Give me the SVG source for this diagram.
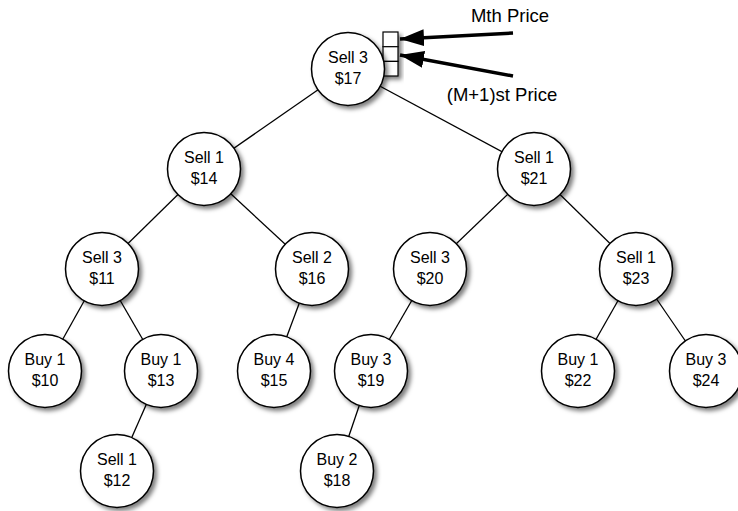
<svg xmlns="http://www.w3.org/2000/svg" width="738" height="511" viewBox="0 0 738 511">
  <defs>
    <filter id="shadow" x="-30%" y="-30%" width="170%" height="170%">
      <feDropShadow dx="3" dy="3" stdDeviation="2" flood-color="#000" flood-opacity="0.5"/>
    </filter>
    <marker id="head" viewBox="0 0 24 17" refX="24" refY="8.5" markerWidth="24" markerHeight="17" markerUnits="userSpaceOnUse" orient="auto">
      <path d="M0,0 L24,8.5 L0,17 z" fill="#000"/>
    </marker>
  </defs>
  <style>
    .edge { stroke: #000; stroke-width: 1.3; fill: none; }
    .node circle { fill: #fff; stroke: #000; stroke-width: 1.5; filter: url(#shadow); }
    .node text { font-family: "Liberation Sans", Arial, sans-serif; font-size: 16px; fill: #000; text-anchor: middle; }
    .label { font-family: "Liberation Sans", Arial, sans-serif; font-size: 18.5px; fill: #000; text-anchor: middle; }
    .slot { fill: #fff; stroke: #000; stroke-width: 1.2; }
    .pointer { stroke: #000; stroke-width: 3.5; fill: none; marker-end: url(#head); }
  </style>

  <rect width="738" height="511" fill="#fff"/>

  <!-- tree edges -->
  <g id="connectors">
    <line class="edge" x1="348" y1="69" x2="204" y2="169"/>
    <line class="edge" x1="348" y1="69" x2="534" y2="169"/>
    <line class="edge" x1="204" y1="169" x2="102" y2="269"/>
    <line class="edge" x1="204" y1="169" x2="312" y2="269"/>
    <line class="edge" x1="534" y1="169" x2="430" y2="269"/>
    <line class="edge" x1="534" y1="169" x2="636" y2="269"/>
    <line class="edge" x1="102" y1="269" x2="45" y2="371"/>
    <line class="edge" x1="102" y1="269" x2="161" y2="371"/>
    <line class="edge" x1="312" y1="269" x2="274" y2="371"/>
    <line class="edge" x1="430" y1="269" x2="371" y2="371"/>
    <line class="edge" x1="636" y1="269" x2="578" y2="371"/>
    <line class="edge" x1="636" y1="269" x2="706" y2="371"/>
    <line class="edge" x1="161" y1="371" x2="117" y2="471"/>
    <line class="edge" x1="371" y1="371" x2="337" y2="471"/>
    <line class="pointer" x1="513" y1="33" x2="400" y2="39"/>
    <line class="pointer" x1="513" y1="76" x2="400" y2="55"/>
  </g>

  <!-- price slots beside the root -->
  <g id="slots" filter="url(#shadow)">
    <rect class="slot" x="383" y="32" width="15" height="14.7"/>
    <rect class="slot" x="383" y="46.7" width="15" height="14.7"/>
    <rect class="slot" x="383" y="61.4" width="15" height="14.6"/>
  </g>

  <text class="label" x="510" y="22">Mth Price</text>
  <text class="label" x="502" y="101">(M+1)st Price</text>

  <g id="n17" class="node"><circle cx="348" cy="69" r="36.5"/><text x="348" y="63">Sell 3</text><text x="348" y="84">$17</text></g>
  <g id="n14" class="node"><circle cx="204" cy="169" r="36.5"/><text x="204" y="163">Sell 1</text><text x="204" y="184">$14</text></g>
  <g id="n21" class="node"><circle cx="534" cy="169" r="36.5"/><text x="534" y="163">Sell 1</text><text x="534" y="184">$21</text></g>
  <g id="n11" class="node"><circle cx="102" cy="269" r="36.5"/><text x="102" y="263">Sell 3</text><text x="102" y="284">$11</text></g>
  <g id="n16" class="node"><circle cx="312" cy="269" r="36.5"/><text x="312" y="263">Sell 2</text><text x="312" y="284">$16</text></g>
  <g id="n20" class="node"><circle cx="430" cy="269" r="36.5"/><text x="430" y="263">Sell 3</text><text x="430" y="284">$20</text></g>
  <g id="n23" class="node"><circle cx="636" cy="269" r="36.5"/><text x="636" y="263">Sell 1</text><text x="636" y="284">$23</text></g>
  <g id="n10" class="node"><circle cx="45" cy="371" r="36.5"/><text x="45" y="365">Buy 1</text><text x="45" y="386">$10</text></g>
  <g id="n13" class="node"><circle cx="161" cy="371" r="36.5"/><text x="161" y="365">Buy 1</text><text x="161" y="386">$13</text></g>
  <g id="n15" class="node"><circle cx="274" cy="371" r="36.5"/><text x="274" y="365">Buy 4</text><text x="274" y="386">$15</text></g>
  <g id="n19" class="node"><circle cx="371" cy="371" r="36.5"/><text x="371" y="365">Buy 3</text><text x="371" y="386">$19</text></g>
  <g id="n22" class="node"><circle cx="578" cy="371" r="36.5"/><text x="578" y="365">Buy 1</text><text x="578" y="386">$22</text></g>
  <g id="n24" class="node"><circle cx="706" cy="371" r="36.5"/><text x="706" y="365">Buy 3</text><text x="706" y="386">$24</text></g>
  <g id="n12" class="node"><circle cx="117" cy="471" r="36.5"/><text x="117" y="465">Sell 1</text><text x="117" y="486">$12</text></g>
  <g id="n18" class="node"><circle cx="337" cy="471" r="36.5"/><text x="337" y="465">Buy 2</text><text x="337" y="486">$18</text></g>
</svg>
